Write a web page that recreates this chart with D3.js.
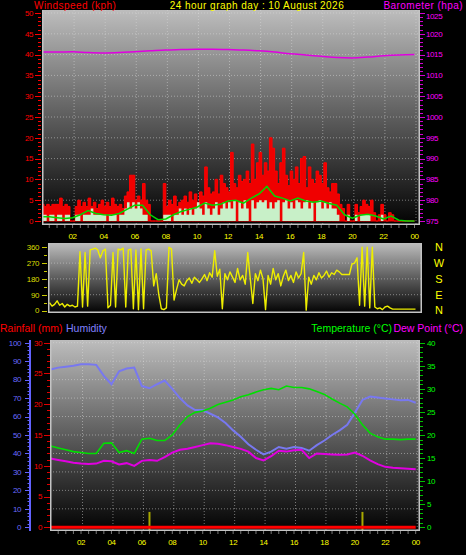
<!DOCTYPE html>
<html><head><meta charset="utf-8">
<script src="https://cdn.jsdelivr.net/npm/d3@7"></script>
<style>body{margin:0;background:#000;} svg{display:block;font-family:"Liberation Sans",Arial,sans-serif;}</style>
</head><body><svg id="c" width="466" height="555"></svg>
<script>
// ---------- DATA ----------
const hourTicks = [2,4,6,8,10,12,14,16,18,20,22,24];
const hourLabels = ["02","04","06","08","10","12","14","16","18","20","22","00"];
const titleText = "24 hour graph day : 10 August 2026";

// wind (kph), 10-minute samples from 00:00 to 24:00
const windGust = [
 4,3.5,4,3.5,4,4, 4,5.5,3.5,4,3.5,0, 0,3.5,5,3.5,4.5,3.5, 5.5,3.5,4.5,3,4,5,
 3.5,4.5,3.5,5.5,4,3.5, 4,3,6,7,11,11, 5,6,5,9,5,4, 0,0,0,0,0,9,
 3.5,5,4,6,3.5,4.5, 5,6,4.5,7,5,6.5, 4.5,7,6,13,8,6.5, 7,10,6.5,11,9,8,
 7,16.5,9,8,11,9.5, 10,12,9,18.5,10,14, 16.5,11,14,12,20,17.5, 12,9,14,17.5,11,8.5,
 12,10,13,9,15,15.5, 8,13,10,9,12,11, 9,14,8,7,9,9, 6.5,4,3,0,4,0,
 0,4,2,3.5,5,4, 3.5,5,2,0,1.5,4, 1.5,0,2,1.5,0,0, 0,0,0,0,0,0, 0];
const windSpeed = [
 1.5,1.5,0,1.5,1.5,0, 1.5,1.5,0,1.5,1.5,0, 0,1.5,1.5,0,1.5,1.5, 1.5,3,1.5,1.5,1.5,1.5,
 1.5,0,1.5,1.5,1.5,0, 1.5,1.5,3,4.5,3,4.5, 3,4.5,3,1.5,1.5,0, 0,0,0,0,0,1.5,
 1.5,1.5,0,1.5,1.5,3, 1.5,3,1.5,3,1.5,3, 4.5,3,1.5,4.5,3,1.5, 3,4.5,1.5,3,4.5,3,
 4.5,3,5,0,4.5,3, 5,3,0,5,3,4.5, 5,4.5,5,3,4.5,3, 4.5,5,0,4.5,5,3,
 4.5,3,5,4.5,3,4.5, 5,3,4.5,0,4.5,5, 3,4.5,3,4.5,3,3, 1.5,0,0,0,1.5,0,
 0,1.5,0,1.5,1.5,1.5, 1.5,0,0,0,0,1.5, 0,0,0,0,0,0, 0,0,0,0,0,0, 0];
// 30-minute average wind (kph)
const windAvg = [1,1,0.8,0.6,0.8,1.5,2.5,1.8,1.5,1.4,1.8,2.8,3.8,3.8,1.5,0.3,0.5,1.5,2.3,2.8,
 3.3,4.3,3.8,4,4.8,5,4.3,5.5,6.5,8.3,6,5.5,4.8,5.5,4.8,4.5,4.8,4.2,3.8,1.5,0.7,1.4,1.6,1.2,0.5,1.2,0.2,0,0];
// hourly barometer (hPa)
const barometer = [1015.6,1015.6,1015.7,1015.5,1015.4,1015.5,1015.7,1015.9,1016.1,1016.2,1016.3,1016.3,
 1016.2,1016.1,1015.9,1015.6,1015.2,1014.9,1014.6,1014.3,1014.2,1014.4,1014.7,1014.9,1015.0];

// wind direction (deg), 10-minute samples
const windDir = [
 45,25,35,55,30,40, 20,35,25,30,20,25, 335,20,330,25,345,350, 355,345,300,340,350,15,
 30,330,20,350,345,355, 20,345,350,10,345,5, 350,10,345,350,340,140, 210,90,10,5,15,360,
 350,60,120,175,150,140, 170,185,155,190,175,160, 180,205,170,215,190,340, 195,235,10,210,175,220,
 190,160,240,175,200,150, 330,180,40,210,170,230, 180,5,200,150,240,175, 210,140,195,230,170,200,
 160,220,185,210,330,2, 190,150,200,175,215,185, 200,225,190,215,205,230, 220,205,205,205,205,265,
 270,300,30,360,25,360, 15,360,20,10,15,5, 20,25,15,8,8,8, 8,8,8,8,8,8, 8];
const dirTicks = [0,90,180,270,360];
const dirLetters = ["N","E","S","W","N"];

// 30-minute humidity (%), temperature and dew point (°C)
const humidity = [85.5,86.5,87,87.5,88.3,88.3,88,82,77.5,84.5,86,86.5,76.5,75.3,77.5,79.5,75,70,66,63.5,
 63.5,61.5,59.5,56.5,52.5,49,45,42,39.5,41,43.5,42.5,43.5,43,41.5,44.5,47,50,52.5,55.5,
 62,69,70.8,70.3,69.8,69.3,68.8,69,67.5];
const temperature = [17.6,17.2,16.8,16.4,16.2,16,16,18.2,18.3,16.2,16.6,16,19.1,19.3,18.8,18.8,20,22.2,24,24.9,
 25.2,25.8,26.6,27.1,27.6,28.3,28.7,29.3,29.8,30.1,29.8,30.6,30.3,30.3,30,29.4,28.8,27.8,26.9,26.1,
 24.5,22.2,20.4,19.6,19.1,19.1,19,19.1,19.1];
const dewPoint = [14.9,14.6,14.3,14,13.8,13.7,13.8,14.4,14.3,13.6,13.9,13.3,14.4,14.6,14.4,15.2,16.2,16.8,17,17.4,
 17.8,18.2,18.1,17.8,17.4,17,16.4,15,14.5,15.4,16.6,16.4,16.7,16.8,15,16,15.9,15.8,15.7,15.8,
 16.2,15.5,14.5,13.7,13.1,12.9,12.8,12.7,12.6];
// hourly rainfall (mm)
const rainfall = [0,0,0,0,0,0,0,0,0,0,0,0,0,0,0,0,0,0,0,0,0,0,0,0,0];
const rainMarkHours = [6.5, 20.5];
const rainMarkValues = [2.5, 2.5];

// ---------- DRAWING ----------
const svg = d3.select("#c");
const defs = svg.append("defs");
const tick = {font:"8px", ls:"-0.4px"};
const T10 = windGust.map((d,i)=>i/6);
const T30 = windAvg.map((d,i)=>i/2);
const T60 = barometer.map((d,i)=>i);

function grad(id){
  const g = defs.append("linearGradient").attr("id",id).attr("x1",0).attr("y1",0).attr("x2",0).attr("y2",1);
  [[0,"#bdbdbd"],[0.45,"#666"],[1,"#020202"]].forEach(([o,c])=>g.append("stop").attr("offset",o).attr("stop-color",c));
}
function frame(p,id){
  grad(id);
  svg.append("rect").attr("x",p.x0).attr("y",p.y0).attr("width",p.x1-p.x0).attr("height",p.y1-p.y0).attr("fill",`url(#${id})`);
  defs.append("clipPath").attr("id",id+"c").append("rect").attr("x",p.x0).attr("y",p.y0).attr("width",p.x1-p.x0).attr("height",p.y1-p.y0);
}
function border(p){
  const g = svg.append("g").attr("stroke","#c4c4c4").attr("stroke-width",1.5).attr("fill","none");
  g.append("path").attr("d",`M${p.x0+0.75},${p.y0}V${p.y1-0.75}H${p.x1-0.75}V${p.y0}`);
}
function hgrid(p,ys){
  svg.append("g").selectAll("line").data(ys).join("line")
    .attr("x1",p.x0).attr("x2",p.x1).attr("y1",d=>d).attr("y2",d=>d)
    .attr("stroke","#dcdcdc").attr("stroke-opacity",0.5).attr("stroke-dasharray","1,2");
}
function vgrid(p,xs){
  svg.append("g").selectAll("line").data(xs).join("line")
    .attr("y1",p.y0).attr("y2",p.y1).attr("x1",d=>d).attr("x2",d=>d)
    .attr("stroke","#dcdcdc").attr("stroke-opacity",0.5).attr("stroke-dasharray","1,2");
}
function vTicks(scale, majors, minors, x, majLen, minLen, dir, color){
  const g = svg.append("g").attr("stroke",color).attr("stroke-width",1);
  g.selectAll(".mi").data(minors).join("line").attr("x1",x).attr("x2",x+dir*minLen)
    .attr("y1",d=>Math.round(scale(d))+0.5).attr("y2",d=>Math.round(scale(d))+0.5);
  g.selectAll(".ma").data(majors).join("line").attr("x1",x).attr("x2",x+dir*majLen)
    .attr("y1",d=>Math.round(scale(d))+0.5).attr("y2",d=>Math.round(scale(d))+0.5);
}
function vLabels(scale, vals, x, anchor, color, minY){
  svg.append("g").selectAll("text").data(vals).join("text")
    .attr("x",x).attr("y",d=>Math.max(scale(d), minY||0)).attr("dy","0.35em").attr("text-anchor",anchor)
    .attr("fill",color).attr("font-size",tick.font).attr("letter-spacing",tick.ls).text(d=>d);
}
function text(x,y,s,color,size,anchor,ls){
  svg.append("text").attr("x",x).attr("y",y).attr("fill",color).attr("font-size",size)
    .attr("letter-spacing",ls||0).attr("text-anchor",anchor||"start").text(s);
}

// ===== TOP: wind & barometer =====
const pT = {x0:42,x1:420,y0:10,y1:225};
const xTop = d3.scaleLinear([0,24],[41.5,414.5]);
const yWind = d3.scaleLinear([0,50],[221,13]);
const yBaro = d3.scaleLinear([975,1025],[221,13]);
frame(pT,"gT");
hgrid(pT, d3.range(5,51,5).map(v=>yWind(v)));
vgrid(pT, hourTicks.map(h=>xTop(h)+1.5));
const gT = svg.append("g").attr("clip-path","url(#gTc)");
gT.append("path").datum(windGust)
  .attr("d", d3.area().curve(d3.curveStepAfter).x((d,i)=>xTop(T10[i])).y0(yWind(0)).y1(d=>yWind(d)))
  .attr("fill","#f00000").attr("stroke","#ff0000").attr("stroke-width",1);
gT.append("path").datum(windSpeed)
  .attr("d", d3.area().curve(d3.curveStepAfter).x((d,i)=>xTop(T10[i])).y0(yWind(0)).y1(d=>yWind(d)))
  .attr("fill","#c8f0c8");
gT.append("path").datum(windAvg)
  .attr("d", d3.line().x((d,i)=>xTop(T30[i])).y(d=>yWind(d)))
  .attr("fill","none").attr("stroke","#00d800").attr("stroke-width",1.5);
gT.append("path").datum(barometer)
  .attr("d", d3.line().curve(d3.curveMonotoneX).x((d,i)=>xTop(T60[i])).y(d=>yBaro(d)))
  .attr("fill","none").attr("stroke","#e000e0").attr("stroke-width",1.5);
border(pT);
vTicks(yWind, d3.range(0,51,5), d3.range(0,51,1), 41, 6, 3, -1, "#ff0000");
vLabels(yWind, d3.range(0,51,5), 33, "end", "#ff0000");
vTicks(yBaro, d3.range(975,1026,5), d3.range(975,1026,1), 420, 5, 3, 1, "#d000d0");
vLabels(yBaro, d3.range(975,1026,5), 426, "start", "#ff00ff", 15.7);
svg.append("g").selectAll("line").data(d3.range(0.5,24.01,0.5)).join("line")
  .attr("x1",d=>xTop(d)).attr("x2",d=>xTop(d)).attr("y1",pT.y1).attr("y2",pT.y1+3).attr("stroke","#777");
text(34,9.2,"Windspeed (kph)","#ff0000","10px","start","0.45px");
text(257,9.2,titleText,"#ffff00","10px","middle","0.45px");
text(463,9.2,"Barometer (hpa)","#ff00ff","10px","end","0.45px");
svg.append("g").selectAll("text").data(hourTicks).join("text")
  .attr("x",d=>xTop(d)).attr("y",236).attr("dy","0.35em").attr("text-anchor","middle")
  .attr("fill","#ffff00").attr("font-size",tick.font).attr("letter-spacing",tick.ls)
  .text((d,i)=>hourLabels[i]);

// ===== MIDDLE: wind direction =====
const pM = {x0:48,x1:422,y0:243,y1:313};
const xMid = d3.scaleLinear([0,24],[49.5,415.5]);
const yDir = d3.scaleLinear([0,360],[310.5,247.3]);
frame(pM,"gM");
hgrid(pM, [90,180,270].map(v=>yDir(v)));
svg.append("g").attr("clip-path","url(#gMc)").append("path").datum(windDir)
  .attr("d", d3.line().x((d,i)=>xMid(T10[i])).y(d=>yDir(d)))
  .attr("fill","none").attr("stroke","#eeee00").attr("stroke-width",1.4).attr("stroke-linejoin","round");
border(pM);
vTicks(yDir, dirTicks, d3.range(0,361,45), 47, 5, 3, -1, "#c8c800");
vLabels(yDir, dirTicks, 39, "end", "#dcdc00");
svg.append("g").selectAll("text").data(dirTicks).join("text")
  .attr("x",439).attr("y",d=>yDir(d)).attr("dy","0.36em").attr("text-anchor","middle")
  .attr("fill","#ffff00").attr("font-size","11px").text((d,i)=>dirLetters[i]);

// ===== BOTTOM: temperature, humidity, rain =====
const pB = {x0:50,x1:420,y0:340,y1:531};
const xBot = d3.scaleLinear([0,24],[50.6,415.7]);
const yHum = d3.scaleLinear([0,100],[527.3,342.7]);
const yRain = d3.scaleLinear([0,30],[527.3,342.7]);
const yTemp = d3.scaleLinear([0,40],[527.3,342.7]);
frame(pB,"gB");
hgrid(pB, d3.range(10,101,10).map(v=>yHum(v)));
vgrid(pB, hourTicks.map(h=>xBot(h)+1.5));
const gB = svg.append("g").attr("clip-path","url(#gBc)");
gB.append("path").datum(humidity)
  .attr("d", d3.line().x((d,i)=>xBot(T30[i])).y(d=>yHum(d)))
  .attr("fill","none").attr("stroke","#7878f0").attr("stroke-width",2);
gB.append("path").datum(temperature)
  .attr("d", d3.line().x((d,i)=>xBot(T30[i])).y(d=>yTemp(d)))
  .attr("fill","none").attr("stroke","#00e000").attr("stroke-width",1.6);
gB.append("path").datum(dewPoint)
  .attr("d", d3.line().x((d,i)=>xBot(T30[i])).y(d=>yTemp(d)))
  .attr("fill","none").attr("stroke","#e000e0").attr("stroke-width",2);
gB.selectAll(".rm").data(rainMarkHours).join("line")
  .attr("x1",d=>xBot(d)).attr("x2",d=>xBot(d)).attr("y1",pB.y1).attr("y2",(d,i)=>yRain(rainMarkValues[i]))
  .attr("stroke","#a8a800").attr("stroke-width",2);
gB.append("path").datum(rainfall)
  .attr("d", d3.line().x((d,i)=>xBot(T60[i])).y(d=>yRain(d)))
  .attr("fill","none").attr("stroke","#ff0000").attr("stroke-width",3);
border(pB);
svg.append("line").attr("x1",30).attr("x2",30).attr("y1",340).attr("y2",531).attr("stroke","#6262ff").attr("stroke-width",2);
vTicks(yHum, d3.range(0,101,10), d3.range(0,101,2), 30, 5, 2.5, -1, "#6262ff");
vLabels(yHum, d3.range(0,101,10), 21, "end", "#6a6aff");
vTicks(yRain, d3.range(0,31,5), d3.range(0,31,1), 50, 6, 3, -1, "#e00000");
vLabels(yRain, d3.range(0,31,5), 42, "end", "#ff0000");
vTicks(yTemp, d3.range(0,41,5), d3.range(0,41,1), 420, 5, 3, 1, "#00c000");
vLabels(yTemp, d3.range(0,41,5), 427, "start", "#00ff00");
svg.append("g").selectAll("line").data(d3.range(0.5,24.01,0.5)).join("line")
  .attr("x1",d=>xBot(d)).attr("x2",d=>xBot(d)).attr("y1",pB.y1).attr("y2",pB.y1+3).attr("stroke","#777");
svg.append("g").selectAll("text").data(hourTicks).join("text")
  .attr("x",d=>xBot(d)).attr("y",542).attr("dy","0.35em").attr("text-anchor","middle")
  .attr("fill","#ffff00").attr("font-size",tick.font).attr("letter-spacing",tick.ls)
  .text((d,i)=>hourLabels[i]);
text(0,331.5,"Rainfall (mm)","#ff0000","10.5px");
text(66,331.5,"Humidity","#8080ff","10.5px");
text(392,331.5,"Temperature (°C)","#00ff00","10.5px","end");
text(463,331.5,"Dew Point (°C)","#ff00ff","10.5px","end");
</script></body></html>
